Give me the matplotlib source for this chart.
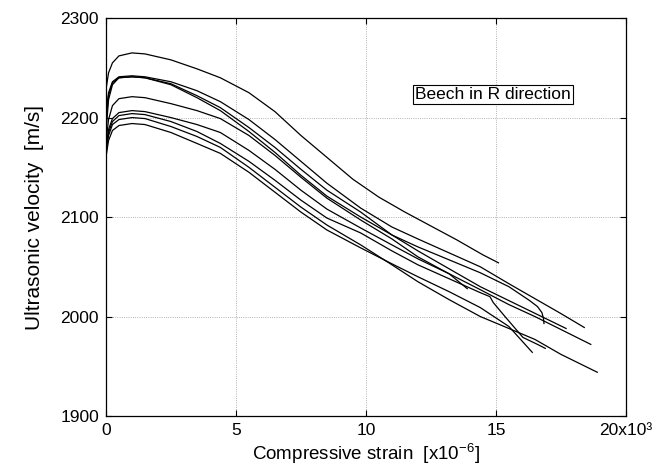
import matplotlib
matplotlib.use('Agg')
import matplotlib.pyplot as plt

plt.rcParams['font.family'] = ['Liberation Sans', 'DejaVu Sans']
plt.rcParams['mathtext.fontset'] = 'custom'
plt.rcParams['mathtext.rm'] = 'Liberation Sans'

# strain in units of 10^3 x 10^-6, velocity in m/s
x_a = [0, 0.1, 0.25, 0.5, 1, 1.5, 2.5, 3.5, 4.4, 5.5, 6.5, 7.5, 8.5, 9.5, 10.5, 11.5, 12.5, 13.5, 14.5, 15.1]
v_a = [2228, 2245, 2255, 2262, 2265, 2264, 2258, 2249, 2240, 2225, 2206, 2182, 2160, 2138, 2120, 2105, 2091, 2077, 2062, 2054]

x_b1 = [0, 0.1, 0.25, 0.5, 1, 1.5, 2.5, 3.5, 4.4, 5.5, 6.5, 7.5, 8.5, 9.8, 11, 12, 13.2, 14.4, 15.5, 16.5, 17.5, 18.4]
v_b1 = [2205, 2225, 2236, 2241, 2242, 2241, 2236, 2227, 2216, 2198, 2178, 2156, 2134, 2109, 2090, 2078, 2064, 2050, 2033, 2018, 2003, 1989]

x_b2 = [0, 0.1, 0.25, 0.5, 1, 1.5, 2.5, 3.5, 4.4, 5.5, 6.5, 7.5, 8.5, 9.8, 11, 12, 13.2, 14.4, 15.5, 16.6, 17.7]
v_b2 = [2195, 2222, 2235, 2240, 2241, 2240, 2234, 2222, 2210, 2190, 2170, 2148, 2127, 2105, 2082, 2066, 2048, 2030, 2016, 2002, 1988]

x_b3 = [0, 0.1, 0.25, 0.5, 1, 1.5, 2.5, 3.5, 4.4, 5.5, 6.5, 7.5, 8.5, 9.8, 11, 12, 13.2, 14.4, 15.5, 16.3, 16.6, 16.77, 16.83, 16.85]
v_b3 = [2185, 2218, 2233, 2240, 2241, 2240, 2233, 2220, 2207, 2186, 2165, 2142, 2121, 2100, 2082, 2070, 2057, 2044, 2030, 2016, 2010, 2004, 1998, 1993]

x_c = [0, 0.1, 0.25, 0.5, 1, 1.5, 2.5, 3.5, 4.4, 5.5, 6.5, 7.5, 8.5, 9.8, 11, 12, 13.2, 14.4, 15.5, 16.5, 17.5, 18.65]
v_c = [2175, 2198, 2212, 2219, 2221, 2220, 2214, 2207, 2199, 2182, 2162, 2140, 2119, 2097, 2078, 2060, 2043, 2027, 2012, 2000, 1987, 1972]

x_d1 = [0, 0.1, 0.25, 0.5, 1, 1.5, 2.5, 3.5, 4.4, 5.5, 6.5, 7.5, 8.5, 9.8, 11, 12, 13.2, 13.9]
v_d1 = [2170, 2188, 2199, 2205, 2207, 2206, 2200, 2193, 2185, 2167, 2148, 2127, 2108, 2089, 2072, 2058, 2043, 2028]

x_d2 = [0, 0.1, 0.25, 0.5, 1, 1.5, 2.5, 3.5, 4.4, 5.5, 6.5, 7.5, 8.5, 9.8, 11, 12, 13.2, 14.4, 14.77, 14.9, 15.35, 16.04, 16.6, 16.9]
v_d2 = [2168, 2185, 2196, 2202, 2204, 2203, 2196, 2186, 2174, 2156, 2137, 2117, 2099, 2084, 2066, 2052, 2038, 2024, 2020, 2014, 2000, 1979, 1972, 1968]

x_d3 = [0, 0.1, 0.25, 0.5, 1, 1.5, 2.5, 3.5, 4.4, 5.5, 6.5, 7.5, 8.5, 9.8, 11, 12, 13.2, 14.4, 15.5, 16.5, 17.5, 18.9]
v_d3 = [2165, 2182, 2193, 2198, 2200, 2199, 2191, 2181, 2170, 2150, 2130, 2110, 2092, 2072, 2052, 2035, 2017, 2000, 1988, 1977, 1962, 1944]

x_d4 = [0, 0.1, 0.25, 0.5, 1, 1.5, 2.5, 3.5, 4.4, 5.5, 6.5, 7.5, 8.5, 9.8, 11, 12, 13.2, 14.4, 15.5, 16.4]
v_d4 = [2160, 2177, 2187, 2192, 2194, 2193, 2185, 2174, 2164, 2145, 2125, 2105, 2087, 2069, 2053, 2040, 2025, 2009, 1990, 1964]

curves = [(x_a, v_a), (x_b1, v_b1), (x_b2, v_b2), (x_b3, v_b3), (x_c, v_c),
          (x_d1, v_d1), (x_d2, v_d2), (x_d3, v_d3), (x_d4, v_d4)]

xticks = [0, 5, 10, 15, 20]
xtick_labels = ['0', '5', '10', '15', '20x10³']
yticks = [1900, 2000, 2100, 2200, 2300]

fig = plt.figure(figsize=(6.54, 4.76), dpi=100)
ax = fig.add_axes([0.162, 0.126, 0.795, 0.836])

for xs, vs in curves:
    ax.plot(xs, vs, color='black', linewidth=0.9)

ax.set_xlim(0, 20)
ax.set_ylim(1900, 2300)
ax.set_xticks(xticks)
ax.set_xticklabels(xtick_labels)
ax.set_yticks(yticks)
ax.grid(True, linestyle=':', color='0.6', linewidth=0.6)
ax.tick_params(direction='in', length=4, labelsize=12.5, top=True, right=True, pad=5)
for s in ax.spines.values():
    s.set_linewidth(0.9)

ax.set_xlabel('Compressive strain  [x10$^{-6}$]', fontsize=13.5, labelpad=2)
ax.set_ylabel('Ultrasonic velocity  [m/s]', fontsize=15, labelpad=12)

ax.text(14.88, 2223, 'Beech in R direction', fontsize=12.5, ha='center', va='center',
        bbox=dict(boxstyle='square,pad=0.12', facecolor='white', edgecolor='black', linewidth=0.8))

fig.savefig('out.png', dpi=100)
